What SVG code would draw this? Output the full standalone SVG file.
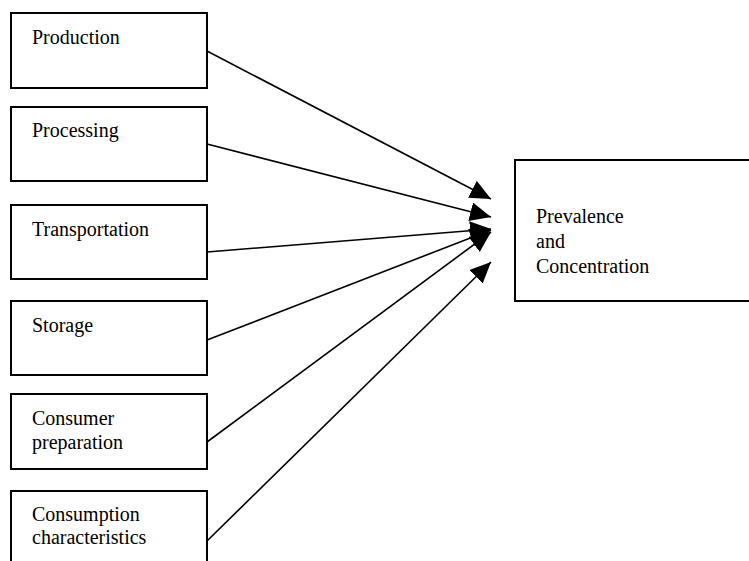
<svg xmlns="http://www.w3.org/2000/svg" width="749" height="561" viewBox="0 0 749 561">
  <style>
    .box { fill: #ffffff; stroke: #000000; stroke-width: 2; }
    .label { font-family: "Liberation Serif", "Times New Roman", serif; font-size: 20px; fill: #000000; }
    .edge { stroke: #000000; stroke-width: 1.6; fill: none; marker-end: url(#head); }
  </style>
  <defs>
    <marker id="head" markerUnits="userSpaceOnUse" markerWidth="22" markerHeight="20" refX="21" refY="9.5" orient="auto">
      <path d="M0,0 L21,9.5 L0,19 Z" fill="#000000"/>
    </marker>
  </defs>
  <rect width="749" height="561" fill="#ffffff"/>

  <g id="production">
    <rect class="box" x="11" y="13" width="196" height="75"/>
    <text class="label" x="32" y="44">Production</text>
  </g>
  <g id="processing">
    <rect class="box" x="11" y="107" width="196" height="74"/>
    <text class="label" x="32" y="137">Processing</text>
  </g>
  <g id="transportation">
    <rect class="box" x="11" y="205" width="196" height="74"/>
    <text class="label" x="32" y="236">Transportation</text>
  </g>
  <g id="storage">
    <rect class="box" x="11" y="301" width="196" height="74"/>
    <text class="label" x="32" y="332">Storage</text>
  </g>
  <g id="consumer-preparation">
    <rect class="box" x="11" y="394" width="196" height="75"/>
    <text class="label" x="32" y="425">Consumer</text>
    <text class="label" x="32" y="449">preparation</text>
  </g>
  <g id="consumption-characteristics">
    <rect class="box" x="11" y="491" width="196" height="80"/>
    <text class="label" x="32" y="521">Consumption</text>
    <text class="label" x="32" y="544">characteristics</text>
  </g>
  <g id="prevalence-concentration">
    <rect class="box" x="515" y="160" width="240" height="141"/>
    <text class="label" x="536" y="223">Prevalence</text>
    <text class="label" x="536" y="248">and</text>
    <text class="label" x="536" y="273">Concentration</text>
  </g>

  <g id="connectors">
    <line class="edge" x1="207" y1="51" x2="491" y2="199"/>
    <line class="edge" x1="207" y1="144" x2="491" y2="217"/>
    <line class="edge" x1="207" y1="252" x2="491" y2="229"/>
    <line class="edge" x1="207" y1="340" x2="491" y2="230"/>
    <line class="edge" x1="207" y1="442" x2="491" y2="232"/>
    <line class="edge" x1="207" y1="541" x2="491" y2="262"/>
  </g>
</svg>
